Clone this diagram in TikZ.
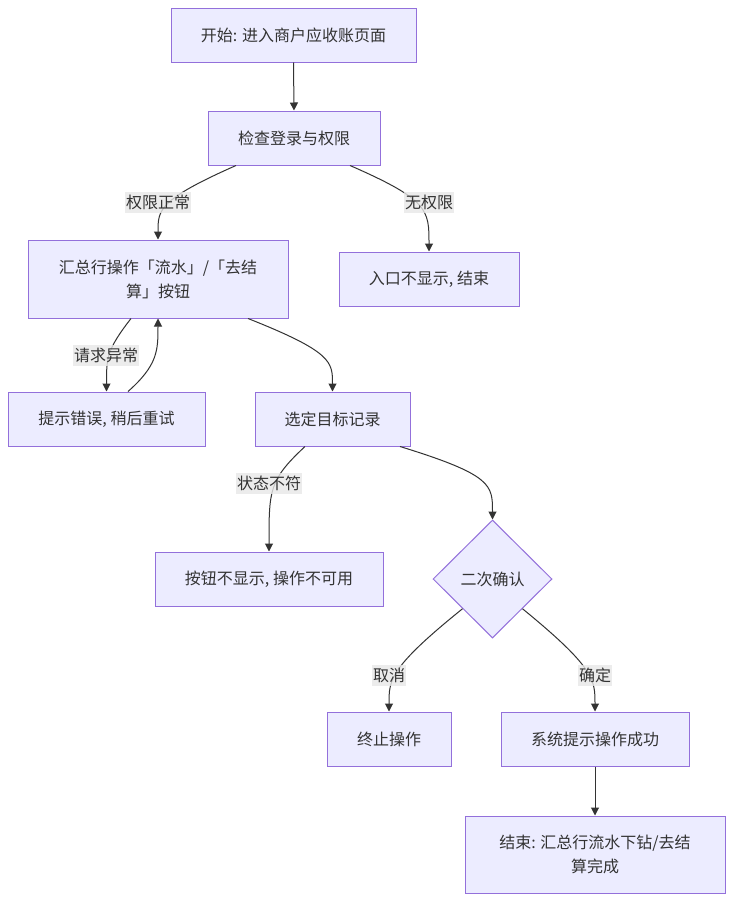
\documentclass[tikz,border=0pt]{standalone}
\usepackage{fontspec}
\setmainfont{Noto Sans CJK SC}
\usetikzlibrary{shapes.geometric,arrows.meta,calc}
\definecolor{nodefill}{HTML}{ECECFF}
\definecolor{nodeline}{HTML}{9370DB}
\definecolor{txt}{HTML}{333333}
\definecolor{lblbg}{HTML}{E8E8E8}
\tikzset{
  box/.style={draw=nodeline, fill=nodefill, line width=1pt, text=txt,
    font=\fontsize{16}{24}\selectfont, align=center, inner sep=0pt},
  dia/.style={diamond, draw=nodeline, fill=nodefill, line width=1pt, text=txt,
    font=\fontsize{16}{24}\selectfont, inner sep=0pt,
    minimum width=119pt, minimum height=118pt},
  edge/.style={draw=txt, line width=1pt, -{Triangle[length=8pt,width=8pt]}},
  lbl/.style={fill=lblbg, fill opacity=0.8, text opacity=1, text=txt,
    font=\fontsize{16}{20}\selectfont, inner ysep=0pt, inner xsep=1pt,
    minimum height=21pt}
}
\begin{document}
\begin{tikzpicture}[x=1pt,y=-1pt]
\fill[white] (0,0) rectangle (734,902);
\useasboundingbox (0,0) rectangle (734,902);

\node[box, minimum width=245pt, minimum height=54pt] (start) at (293.5,35) {开始: 进入商户应收账页面};
\node[box, minimum width=172pt, minimum height=54pt] (check) at (294,138) {检查登录与权限};
\node[box, minimum width=260pt, minimum height=78pt] (summary) at (158,279) {汇总行操作「流水」/「去结\\算」按钮};
\node[box, minimum width=180pt, minimum height=54pt] (noperm) at (429,279) {入口不显示, 结束};
\node[box, minimum width=197pt, minimum height=54pt] (error) at (106.5,419) {提示错误, 稍后重试};
\node[box, minimum width=155pt, minimum height=54pt] (select) at (332.5,419) {选定目标记录};
\node[box, minimum width=228pt, minimum height=54pt] (hidden) at (269,579) {按钮不显示, 操作不可用};
\node[dia] (confirm) at (492.5,579) {二次确认};
\node[box, minimum width=124pt, minimum height=54pt] (cancel) at (389,739) {终止操作};
\node[box, minimum width=188pt, minimum height=54pt] (success) at (595,739) {系统提示操作成功};
\node[box, minimum width=260pt, minimum height=77pt] (finish) at (595,854.5) {结束: 汇总行流水下钻/去结\\算完成};

\draw[edge] (start.south) -- (check.north);
\draw[edge] ([xshift=-58pt]check.south) .. controls (158,200) and (158,210) .. (summary.north);
\draw[edge] ([xshift=56pt]check.south) .. controls (429,200) and (429,210) .. (noperm.north);
\draw[edge] ([xshift=-27pt]summary.south) .. controls (106.5,350) and (106.5,358) .. (error.north);
\draw[edge] ([xshift=21.5pt]error.north) .. controls (158,365) and (158,350) .. (summary.south);
\draw[edge] ([xshift=90pt]summary.south) .. controls (332.5,352) and (332.5,362) .. (select.north);
\draw[edge] ([xshift=-27.5pt]select.south) .. controls (269,480) and (269,490) .. (hidden.north);
\draw[edge] ([xshift=67.5pt]select.south) .. controls (492.5,475) and (492.5,485) .. (confirm.north);
\draw[edge] (confirm.south west) .. controls (389,668) and (389,680) .. (cancel.north);
\draw[edge] (confirm.south east) .. controls (595,668) and (595,680) .. (success.north);
\draw[edge] (success.south) -- (finish.north);

\node[lbl] (l1) at (158,202) {权限正常};
\node[lbl] (l2) at (429,202) {无权限};
\node[lbl] (l3) at (106,355) {请求异常};
\node[lbl] (l4) at (269,483) {状态不符};
\node[lbl] (l5) at (389,675) {取消};
\node[lbl] (l6) at (595,675) {确定};
\end{tikzpicture}
\end{document}
